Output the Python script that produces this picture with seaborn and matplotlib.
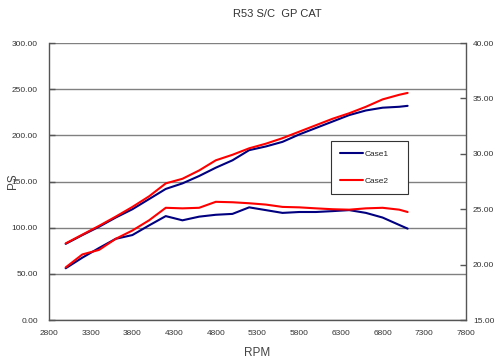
import numpy as np
import pandas as pd
import matplotlib
matplotlib.use("Agg")
import matplotlib.pyplot as plt
import seaborn as sns

# engine speed
rpm = [3000, 3200, 3400, 3600, 3800, 4000, 4200, 4400, 4600, 4800, 5000,
       5200, 5400, 5600, 5800, 6000, 6200, 6400, 6600, 6800, 7000, 7100]

# power (PS, left axis)
ps_case1 = [82.5, 92, 101, 111, 120, 131, 142, 148, 156, 165, 173,
            184, 188, 193, 201, 208, 215, 222, 227, 230, 231, 232]
ps_case2 = [83, 92.5, 102, 112, 122.5, 134, 148, 153, 162, 173, 179,
            186, 191, 197, 204, 211, 218, 224, 231, 239, 244, 246]

# torque (kgm, right axis)
kgm_case1 = [19.67, 20.63, 21.5, 22.33, 22.67, 23.54, 24.38, 24.0, 24.33, 24.5, 24.58,
             25.17, 24.92, 24.67, 24.75, 24.75, 24.83, 24.92, 24.67, 24.25, 23.58, 23.25]
kgm_case2 = [19.75, 20.92, 21.33, 22.33, 23.08, 24.0, 25.13, 25.08, 25.13, 25.67, 25.63,
             25.54, 25.42, 25.21, 25.17, 25.08, 25.0, 24.96, 25.08, 25.13, 24.96, 24.75]

cases = ["Case1", "Case2"]
colors = {"Case1": "#000080", "Case2": "#ff0000"}

n = len(rpm)
power = pd.DataFrame({"RPM": rpm * 2, "PS": ps_case1 + ps_case2,
                      "Case": [cases[0]] * n + [cases[1]] * n})
torque = pd.DataFrame({"RPM": rpm * 2, "kgm": kgm_case1 + kgm_case2,
                       "Case": [cases[0]] * n + [cases[1]] * n})

sns.set_style("white")
plt.rcParams['font.family'] = ['Liberation Sans', 'DejaVu Sans']

fig = plt.figure(figsize=(5, 3.62), dpi=100)
ax = fig.add_axes([0.098, 0.116, 0.834, 0.765])
ax2 = ax.twinx()

sns.lineplot(data=power, x="RPM", y="PS", hue="Case", palette=colors, lw=1.5, ax=ax)
sns.lineplot(data=torque, x="RPM", y="kgm", hue="Case", palette=colors, lw=1.5, ax=ax2, legend=False)

axis_col = "#555555"
ax.set_xlim(2800, 7800)
ax.set_ylim(0, 300)
ax2.set_ylim(15, 40)
ax.set_xticks(np.arange(2800, 7801, 500))
ax.set_yticks(np.arange(0, 301, 50))
ax2.set_yticks(np.arange(15, 41, 5))
ax.set_yticklabels([f"{v:.2f}" for v in np.arange(0, 301, 50)])
ax2.set_yticklabels([f"{v:.2f}" for v in np.arange(15, 41, 5)])

ax.yaxis.grid(True, color="#808080", lw=1)
ax.set_axisbelow(True)

for a in (ax, ax2):
    a.spines["top"].set_visible(False)
    for s in a.spines.values():
        s.set_color(axis_col)
        s.set_linewidth(1)
ax.spines["right"].set_visible(False)
ax2.spines["left"].set_visible(False)
ax2.spines["bottom"].set_visible(False)

ax.tick_params(axis="both", direction="in", length=4, width=1, color=axis_col,
               labelsize=6, labelcolor="#333333")
ax.tick_params(axis="y", pad=8)
ax.tick_params(axis="x", pad=7)
ax2.tick_params(axis="y", direction="in", length=4, width=1, color=axis_col,
                labelsize=6, labelcolor="#333333", pad=5)

ax.set_xlabel("RPM", fontsize=8.5, color="#444444")
ax.set_ylabel("PS", fontsize=8.5, color="#444444")
ax.xaxis.set_label_coords(0.5, -0.097)
ax.yaxis.set_label_coords(-0.072, 0.5)
ax2.set_ylabel("")

fig.text(0.555, 0.961, "R53 S/C  GP CAT", ha="center", va="center", fontsize=8, color="#333333")

handles, labels = ax.get_legend_handles_labels()
ax.get_legend().remove()
leg = ax2.legend(handles, labels, loc="upper left", bbox_to_anchor=(0.676, 0.455, 0.186, 0.191),
                 mode="expand", borderaxespad=0, fancybox=False, edgecolor="#333333", framealpha=1,
                 fontsize=6, handlelength=2.8, handletextpad=0.1, labelspacing=2.3, borderpad=1.1)
leg.get_frame().set_linewidth(0.8)

fig.savefig("out.png", dpi=100)
